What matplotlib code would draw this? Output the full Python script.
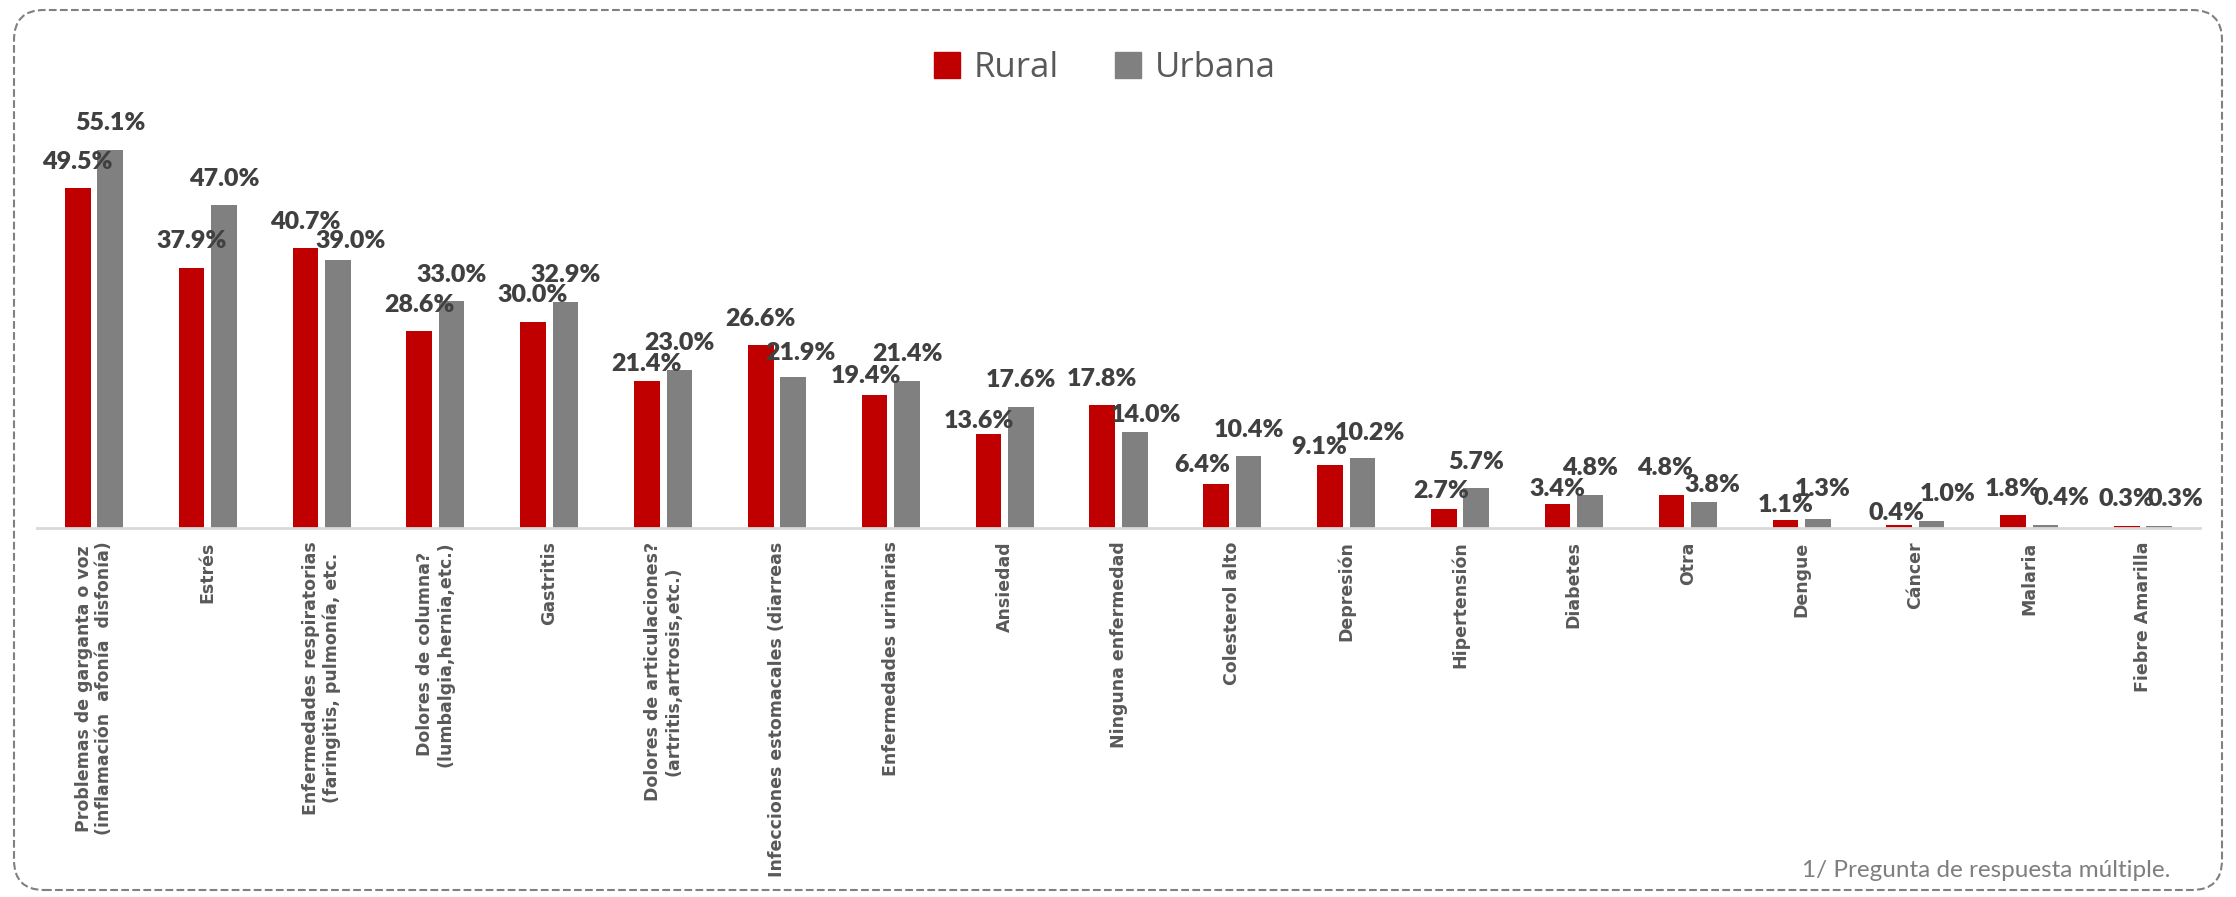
import numpy as np
import matplotlib.pyplot as plt
from matplotlib.patches import FancyBboxPatch, Patch

# categorias y porcentajes
categorias = [
    "Problemas de garganta o voz\n(inflamación  afonía  disfonía)",
    "Estrés",
    "Enfermedades respiratorias\n(faringitis, pulmonía, etc.",
    "Dolores de columna?\n(lumbalgia,hernia,etc.)",
    "Gastritis",
    "Dolores de articulaciones?\n(artritis,artrosis,etc.)",
    "Infecciones estomacales (diarreas",
    "Enfermedades urinarias",
    "Ansiedad",
    "Ninguna enfermedad",
    "Colesterol alto",
    "Depresión",
    "Hipertensión",
    "Diabetes",
    "Otra",
    "Dengue",
    "Cáncer",
    "Malaria",
    "Fiebre Amarilla",
]
rural = [49.5, 37.9, 40.7, 28.6, 30.0, 21.4, 26.6, 19.4, 13.6, 17.8,
         6.4, 9.1, 2.7, 3.4, 4.8, 1.1, 0.4, 1.8, 0.3]
urbana = [55.1, 47.0, 39.0, 33.0, 32.9, 23.0, 21.9, 21.4, 17.6, 14.0,
          10.4, 10.2, 5.7, 4.8, 3.8, 1.3, 1.0, 0.4, 0.3]

# label nudges in pixels (index: (dx, dy)), hand moved labels in the original
mover_rural = {5: (0, -10), 7: (-9, -8), 8: (-9, -13), 10: (-14, -8),
               11: (-11, -8), 12: (-3, -8), 13: (0, -11), 14: (-6, 0),
               15: (0, -11), 16: (-3, -15)}
mover_urbana = {2: (13, -7), 6: (7, -2), 9: (11, -10), 11: (8, -2),
                14: (8, -10), 15: (5, 3), 16: (16, 0), 17: (16, 0), 18: (16, 0)}

rojo = "#C00000"
gris = "#808080"

W, H = 2236, 897
fig = plt.figure(figsize=(W / 100, H / 100), dpi=100)

# axes placed in pixel terms
left, right = 37, 2200
base, top = 527.6, 527.6 - 60 * 6.86
ax = fig.add_axes([left / W, (H - base) / H, (right - left) / W, (base - top) / H])

x = np.arange(len(categorias))
w = 0.225
off = 0.1425
b1 = ax.bar(x - off, rural, w, color=rojo, label="Rural")
b2 = ax.bar(x + off, urbana, w, color=gris, label="Urbana")

for bars, vals, mover in ((b1, rural, mover_rural), (b2, urbana, mover_urbana)):
    for i, (r, v) in enumerate(zip(bars, vals)):
        dx, dy = mover.get(i, (0, 0))
        ax.annotate(f"{v:.1f}%", (r.get_x() + r.get_width() / 2, v),
                    xytext=(dx, 19.5 + dy), textcoords="offset pixels",
                    ha="center", va="baseline", fontsize=18, fontweight="heavy",
                    family="Lato", color="#404040")

ax.set_xlim(-0.5, len(categorias) - 0.5)
ax.set_ylim(0, 60)
ax.set_yticks([])
ax.set_xticks(x)
ax.set_xticklabels(categorias, rotation=90, fontsize=12.5, fontweight="bold",
                   family="DejaVu Sans", color="#595959", multialignment="center")
ax.tick_params(axis="x", length=0, pad=10)
for s in ("top", "right", "left"):
    ax.spines[s].set_visible(False)
ax.spines["bottom"].set_color("#d9d9d9")
ax.spines["bottom"].set_linewidth(2)
ax.patch.set_alpha(0)

handles = [Patch(color=rojo, label="Rural"), Patch(color=gris, label="Urbana")]
fig.legend(handles=handles, loc="center", bbox_to_anchor=(1105 / W, 1 - 68 / H),
           ncol=2, frameon=False, prop={"family": "Open Sans", "size": 25},
           handlelength=0.75, handleheight=0.75, handletextpad=0.4,
           columnspacing=1.6, labelcolor="#595959")

fig.text(2170 / W, 1 - 870 / H, "1/ Pregunta de respuesta múltiple.",
         ha="right", va="center", fontsize=17.5, family="Lato", color="#7f7f7f")

# borde punteado redondeado
borde = FancyBboxPatch((0.14, 0.07), 22.08, 8.8,
                       boxstyle="round,pad=0,rounding_size=0.3",
                       transform=fig.dpi_scale_trans, fill=False,
                       edgecolor="#808080", linestyle="--", linewidth=1.5)
fig.patches.append(borde)

fig.savefig("out.png", dpi=100, facecolor="white")
